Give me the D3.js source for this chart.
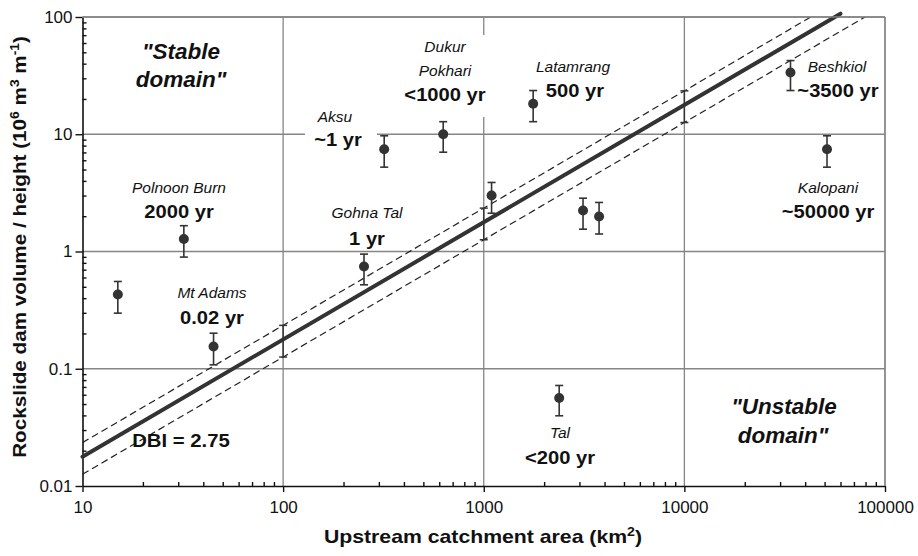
<!DOCTYPE html>
<html><head><meta charset="utf-8">
<script src="https://cdn.jsdelivr.net/npm/d3@7"></script>
<style>
body{margin:0;background:#fff}
svg{display:block}
text{font-family:"Liberation Sans",Arial,Helvetica,sans-serif;fill:#111}
</style>
</head><body>
<svg id="chart" width="918" height="556"></svg>
<script>
// ---------- data ----------
const catchmentArea   = [15, 32, 45, 253, 319, 628, 1094, 1763, 2377, 3125, 3757, 33800, 51400];
const volumePerHeight = [0.43, 1.28, 0.155, 0.745, 7.46, 10, 3.0, 18.2, 0.0563, 2.24, 1.99, 33.6, 7.46];
const errorUpper      = [0.555, 1.66, 0.201, 0.95, 9.7, 12.8, 3.88, 23.6, 0.072, 2.85, 2.62, 42.5, 9.7];
const errorLower      = [0.298, 0.896, 0.108, 0.52, 5.24, 7.03, 2.12, 12.8, 0.0397, 1.55, 1.41, 23.6, 5.24];

const xTicks = [10, 100, 1000, 10000, 100000];
const xTickLabels = ["10", "100", "1000", "10000", "100000"];
const yTicks = [0.01, 0.1, 1, 10, 100];
const yTickLabels = ["0.01", "0.1", "1", "10", "100"];

const dbiMain = 2.75, dbiUpper = 2.63, dbiLower = 2.90;
const dbiLineAreas = [10, 60000];
const dbiBarAreas = [100, 1000, 10000];

const siteNames = [["Polnoon Burn"], ["Aksu"], ["Gohna Tal"], ["Dukur", "Pokhari"], ["Latamrang"], ["Beshkiol"], ["Kalopani"], ["Mt Adams"], ["Tal"]];
const siteAges  = ["2000 yr", "~1 yr", "1 yr", "<1000 yr", "500 yr", "~3500 yr", "~50000 yr", "0.02 yr", "<200 yr"];

// ---------- layout ----------
const X0 = 82.5, X1 = 885, Y0 = 486, Y1 = 17;
const svg = d3.select("#chart");
const x = d3.scaleLog().domain([10, 100000]).range([X0, X1]);
const y = d3.scaleLog().domain([0.01, 100]).range([Y0, Y1]);
const gridColor = "#858585";

svg.append("defs").append("clipPath").attr("id", "plotclip")
  .append("rect").attr("x", X0).attr("y", Y1).attr("width", X1 - X0).attr("height", Y0 - Y1);

// grid
const grid = svg.append("g").attr("stroke", gridColor).attr("stroke-width", 1.3);
grid.selectAll(".vg").data(xTicks.slice(1)).join("line")
  .attr("x1", d => x(d)).attr("x2", d => x(d)).attr("y1", Y0).attr("y2", Y1);
grid.selectAll(".hg").data(yTicks.slice(1)).join("line")
  .attr("y1", d => y(d)).attr("y2", d => y(d)).attr("x1", X0).attr("x2", X1);

// label white boxes (interrupt grid)
const labelBoxes = [[305, 106, 72, 52], [400, 35, 92, 82]];
svg.selectAll(".box").data(labelBoxes).join("rect")
  .attr("x", d => d[0]).attr("y", d => d[1]).attr("width", d => d[2]).attr("height", d => d[3])
  .attr("fill", "#fff");

// axes with minor ticks
function minorTicks(lo, hi) {
  const out = [];
  for (let d = lo; d < hi; d *= 10) for (let k = 2; k <= 9; k++) out.push(d * k);
  return out;
}
const gx = svg.append("g").attr("transform", `translate(0,${Y0})`);
gx.call(d3.axisBottom(x).tickValues(xTicks).tickFormat((d, i) => xTickLabels[i]).tickSize(6).tickSizeOuter(0).tickPadding(9));
gx.append("g").call(d3.axisBottom(x).tickValues(minorTicks(10, 100000)).tickSize(-4).tickFormat("")).select(".domain").remove();
const gy = svg.append("g").attr("transform", `translate(${X0},0)`);
gy.call(d3.axisLeft(y).tickValues(yTicks).tickFormat((d, i) => yTickLabels[i]).tickSize(7).tickSizeOuter(0).tickPadding(3));
gy.append("g").call(d3.axisLeft(y).tickValues(minorTicks(0.01, 100)).tickSize(-4).tickFormat("")).select(".domain").remove();
svg.selectAll(".tick line").attr("stroke", "#111").attr("stroke-width", 1.4);
svg.selectAll(".domain").attr("stroke", "#111").attr("stroke-width", 1.6);
svg.selectAll(".tick text").attr("font-size", 17).attr("fill", "#222")
  .style("font-family", '"Liberation Sans",Arial,sans-serif');

// DBI lines
const dbiVal = (a, dbi) => a / Math.pow(10, dbi);
const line = d3.line().x(d => x(d[0])).y(d => y(d[1]));
const plotLines = svg.append("g");
plotLines.append("path").attr("clip-path", "url(#plotclip)")
  .attr("d", line(dbiLineAreas.map(a => [a, dbiVal(a, dbiUpper)])))
  .attr("fill", "none").attr("stroke", "#222").attr("stroke-width", 1.2).attr("stroke-dasharray", "7,4");
plotLines.append("path").attr("clip-path", "url(#plotclip)")
  .attr("d", line([10, 100000].map(a => [a, dbiVal(a, dbiLower)])))
  .attr("fill", "none").attr("stroke", "#222").attr("stroke-width", 1.2).attr("stroke-dasharray", "7,4");
plotLines.append("path")
  .attr("d", line(dbiLineAreas.map(a => [a, dbiVal(a, dbiMain)])))
  .attr("fill", "none").attr("stroke", "#333").attr("stroke-width", 4).attr("stroke-linecap", "round");

// DBI range bars
const cap = 4;
const bars = svg.append("g").attr("stroke", "#333").attr("stroke-width", 1.5);
dbiBarAreas.forEach(a => {
  const yt = y(dbiVal(a, dbiUpper)), yb = y(dbiVal(a, dbiLower)), xa = x(a);
  bars.append("line").attr("x1", xa).attr("x2", xa).attr("y1", yt).attr("y2", yb);
  bars.append("line").attr("x1", xa - cap).attr("x2", xa + cap).attr("y1", yt).attr("y2", yt);
  bars.append("line").attr("x1", xa - cap).attr("x2", xa + cap).attr("y1", yb).attr("y2", yb);
});

// data points with error bars
const pts = catchmentArea.map((a, i) => ({a, v: volumePerHeight[i], hi: errorUpper[i], lo: errorLower[i]}));
const eg = svg.append("g").attr("stroke", "#333").attr("stroke-width", 1.6);
pts.forEach(p => {
  const xa = x(p.a);
  eg.append("line").attr("x1", xa).attr("x2", xa).attr("y1", y(p.hi)).attr("y2", y(p.lo));
  eg.append("line").attr("x1", xa - cap).attr("x2", xa + cap).attr("y1", y(p.hi)).attr("y2", y(p.hi));
  eg.append("line").attr("x1", xa - cap).attr("x2", xa + cap).attr("y1", y(p.lo)).attr("y2", y(p.lo));
});
svg.append("g").selectAll("circle").data(pts).join("circle")
  .attr("cx", d => x(d.a)).attr("cy", d => y(d.v)).attr("r", 5).attr("fill", "#333");

// plot border (top/right)
svg.append("line").attr("x1", X0).attr("x2", X1).attr("y1", Y1).attr("y2", Y1).attr("stroke", gridColor).attr("stroke-width", 1.3);
svg.append("line").attr("x1", X1).attr("x2", X1).attr("y1", Y1).attr("y2", Y0).attr("stroke", gridColor).attr("stroke-width", 1.3);

// ---------- annotations ----------
function scaledText(px, py, txt, size, weight, style, sx) {
  const g = svg.append("g").attr("transform", `translate(${px},${py}) scale(${sx},1)`);
  return g.append("text").attr("text-anchor", "middle").attr("font-size", size)
    .attr("font-weight", weight).attr("font-style", style).text(txt);
}
const labelLayout = [
  {nx: 179, ny: [193], ax: 179, ay: 218},
  {nx: 335, ny: [122], ax: 338, ay: 146},
  {nx: 367, ny: [218], ax: 367, ay: 245},
  {nx: 445, ny: [52, 76], ax: 445, ay: 101},
  {nx: 573, ny: [72], ax: 575, ay: 97},
  {nx: 837, ny: [72], ax: 838, ay: 97},
  {nx: 828, ny: [193], ax: 828, ay: 218},
  {nx: 212, ny: [298], ax: 212, ay: 324},
  {nx: 560, ny: [438], ax: 560, ay: 464}
];
siteNames.forEach((lines, i) => {
  const L = labelLayout[i];
  lines.forEach((t, j) => scaledText(L.nx, L.ny[j], t, 15.5, "normal", "italic", 1).attr("fill", "#222"));
  scaledText(L.ax, L.ay, siteAges[i], 18, "bold", "normal", 1.12);
});
scaledText(181, 447, "DBI = 2.75", 19, "bold", "normal", 1.07);
scaledText(181, 59, "\"Stable", 22.5, "bold", "italic", 1);
scaledText(181, 87, "domain\"", 22.5, "bold", "italic", 1);
scaledText(784, 414, "\"Unstable", 22.5, "bold", "italic", 1);
scaledText(783, 443, "domain\"", 22.5, "bold", "italic", 1);

// axis titles
const xt = scaledText(483, 543, "Upstream catchment area (km", 18, "bold", "normal", 1.18);
xt.append("tspan").attr("font-size", 12).attr("dy", -7).text("2");
xt.append("tspan").attr("dy", 7).text(")");

const yg = svg.append("g").attr("transform", `translate(26,247) rotate(-90) scale(1.15,1)`);
const yt = yg.append("text").attr("text-anchor", "middle").attr("font-size", 18).attr("font-weight", "bold")
  .text("Rockslide dam volume / height (10");
yt.append("tspan").attr("font-size", 12).attr("dy", -7).text("6");
yt.append("tspan").attr("dy", 7).text(" m");
yt.append("tspan").attr("font-size", 12).attr("dy", -7).text("3");
yt.append("tspan").attr("dy", 7).text(" m");
yt.append("tspan").attr("font-size", 12).attr("dy", -7).text("-1");
yt.append("tspan").attr("dy", 7).text(")");
</script>
</body></html>
